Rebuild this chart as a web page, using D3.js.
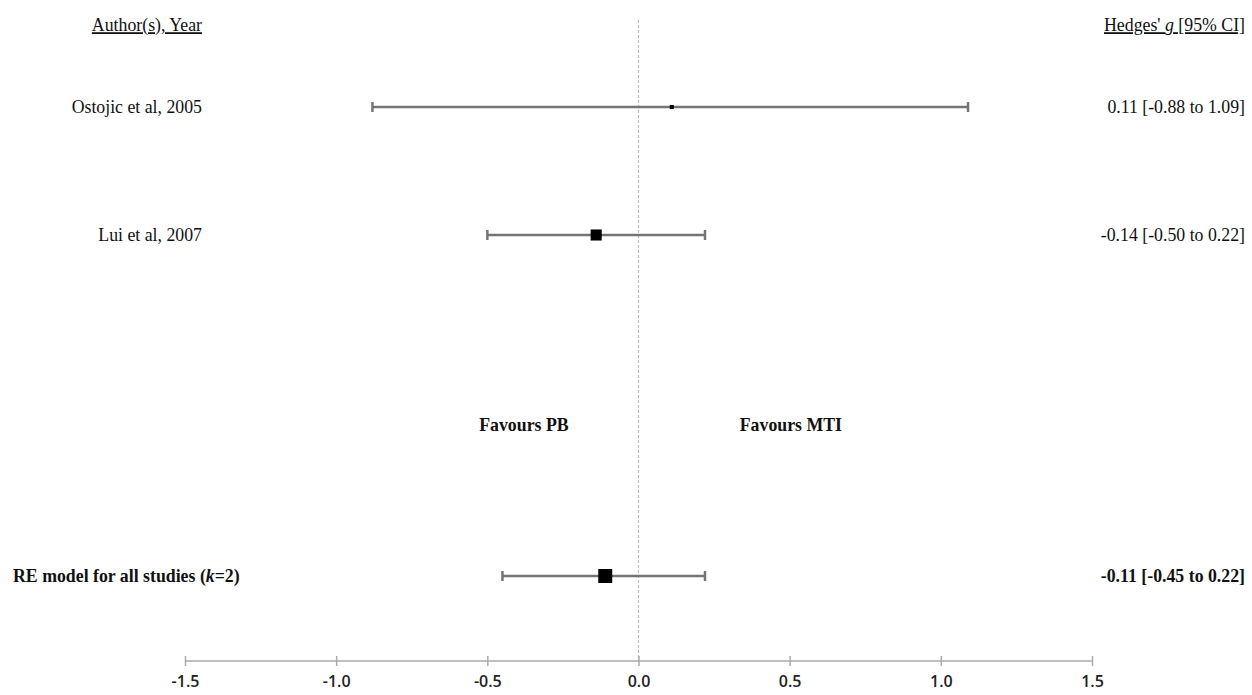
<!DOCTYPE html>
<html><head><meta charset="utf-8">
<script src="https://cdn.jsdelivr.net/npm/d3@7"></script>
<style>body{margin:0;background:#fff}</style>
</head><body>
<svg id="c" width="1252" height="695"></svg>
<script>
const studies = ["Ostojic et al, 2005", "Lui et al, 2007"];
const estimates = [0.11, -0.14];
const lower = [-0.88, -0.50];
const upper = [1.09, 0.22];
const weights = [11.8, 88.2];
const summaryLabel = "RE model for all studies";
const summary = {est: -0.11, lo: -0.45, hi: 0.22};
const ciLabels = ["0.11 [-0.88 to 1.09]", "-0.14 [-0.50 to 0.22]"];
const summaryCiLabel = "-0.11 [-0.45 to 0.22]";
const tickValues = [-1.5, -1.0, -0.5, 0.0, 0.5, 1.0, 1.5];
const tickLabels = ["-1.5", "-1.0", "-0.5", "0.0", "0.5", "1.0", "1.5"];
const favours = ["Favours PB", "Favours MTI"];
const favoursAt = [-0.379, 0.504];

const svg = d3.select("#c");
const x = d3.scaleLinear().domain([-1.5, 1.5]).range([185, 1092]);
const rowY = d3.scaleOrdinal().domain(["h", 0, 1, "s"]).range([25, 107, 235, 576]);
const size = d3.scaleSqrt().domain([0, 100]).range([0, 11.8]);
const serif = "'Liberation Serif', 'Times New Roman', serif";
const fs = 17.8;
const errColor = "#757575";

// dashed zero line
svg.append("line").attr("x1", x(0)).attr("x2", x(0)).attr("y1", 20).attr("y2", 661)
  .attr("stroke", "#bdbdbd").attr("stroke-width", 1.2).attr("stroke-dasharray", "3,2");

// axis
const axis = d3.axisBottom(x).tickValues(tickValues).tickFormat((d, i) => tickLabels[i]).tickSize(5);
const ag = svg.append("g").attr("transform", "translate(0,661)").call(axis);
ag.select(".domain").attr("stroke", "#aaa").attr("stroke-width", 1.5).attr("d", `M${x(-1.5)},0H${x(1.5)}`);
ag.selectAll(".tick line").attr("stroke", "#aaa").attr("stroke-width", 1.5).attr("y1", -5).attr("y2", 5);
ag.selectAll(".tick text").attr("y", 20).attr("font-family", "'Open Sans', sans-serif")
  .attr("font-size", 16).attr("font-weight", 600).attr("fill", "#222").attr("dy", "0.35em");

function errBar(y, lo, hi) {
  svg.append("line").attr("x1", x(lo)).attr("x2", x(hi)).attr("y1", y).attr("y2", y)
    .attr("stroke", errColor).attr("stroke-width", 2.5);
  [lo, hi].forEach(v => svg.append("line").attr("x1", x(v)).attr("x2", x(v))
    .attr("y1", y - 5).attr("y2", y + 5).attr("stroke", errColor).attr("stroke-width", 2.5));
}

studies.forEach((s, i) => {
  const y = rowY(i);
  errBar(y, lower[i], upper[i]);
  const w = size(weights[i]);
  svg.append("rect").attr("x", x(estimates[i]) - w / 2).attr("y", y - w / 2)
    .attr("width", w).attr("height", w).attr("fill", "#000");
  svg.append("text").attr("x", 202).attr("y", y).attr("dy", "0.35em").attr("text-anchor", "end")
    .attr("font-family", serif).attr("font-size", fs).attr("fill", "#111").text(s);
  svg.append("text").attr("x", 1245).attr("y", y).attr("dy", "0.35em").attr("text-anchor", "end")
    .attr("font-family", serif).attr("font-size", fs).attr("fill", "#111").text(ciLabels[i]);
});

// summary
{
  const y = rowY("s");
  errBar(y, summary.lo, summary.hi);
  const w = 14;
  svg.append("rect").attr("x", x(summary.est) - w / 2).attr("y", y - w / 2)
    .attr("width", w).attr("height", w).attr("fill", "#000");
  const t = svg.append("text").attr("x", 13).attr("y", y).attr("dy", "0.35em")
    .attr("font-family", serif).attr("font-size", fs).attr("font-weight", "bold").attr("fill", "#111");
  t.append("tspan").text(summaryLabel + " (");
  t.append("tspan").attr("font-style", "italic").text("k");
  t.append("tspan").text("=2)");
  svg.append("text").attr("x", 1245).attr("y", y).attr("dy", "0.35em").attr("text-anchor", "end")
    .attr("font-family", serif).attr("font-size", fs).attr("font-weight", "bold").attr("fill", "#111")
    .text(summaryCiLabel);
}

// headers
svg.append("text").attr("x", 202).attr("y", rowY("h")).attr("dy", "0.35em").attr("text-anchor", "end")
  .attr("font-family", serif).attr("font-size", fs).attr("fill", "#111").attr("text-decoration", "underline")
  .text("Author(s), Year");
const h2 = svg.append("text").attr("x", 1245).attr("y", rowY("h")).attr("dy", "0.35em").attr("text-anchor", "end")
  .attr("font-family", serif).attr("font-size", fs).attr("fill", "#111").attr("text-decoration", "underline");
h2.append("tspan").text("Hedges' ");
h2.append("tspan").attr("font-style", "italic").text("g");
h2.append("tspan").text(" [95% CI]");

// favours labels
favours.forEach((f, i) => {
  svg.append("text").attr("x", x(favoursAt[i])).attr("y", 425).attr("dy", "0.35em").attr("text-anchor", "middle")
    .attr("font-family", serif).attr("font-size", fs).attr("font-weight", "bold").attr("fill", "#111").text(f);
});
</script>
</body></html>
